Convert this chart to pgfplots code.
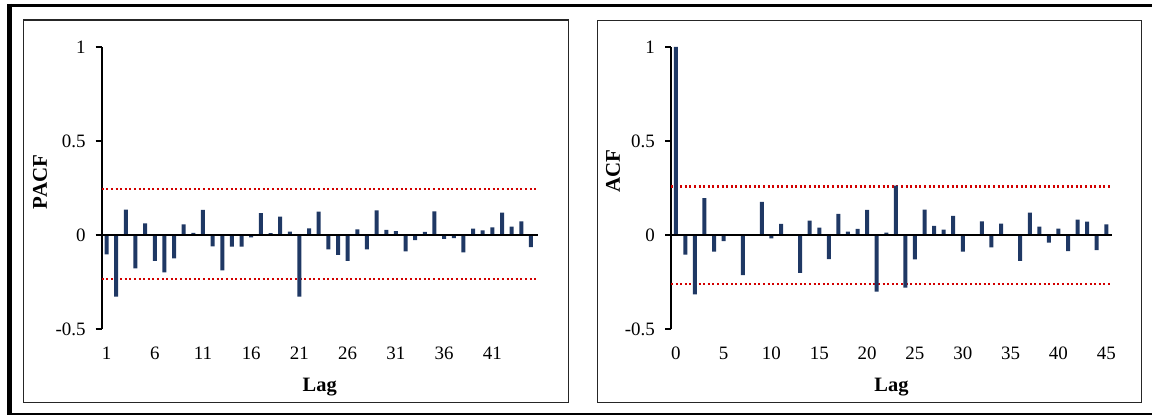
\documentclass[border=0pt]{standalone}
\usepackage{fontspec}
\setmainfont{Liberation Serif}
\usepackage{pgfplots}
\usepackage{pgfplotstable}
\pgfplotsset{compat=1.18}

\definecolor{barblue}{RGB}{31,56,100}
\definecolor{limred}{RGB}{210,0,0}

\pgfplotstableread{
lag pacf
1 -0.103
2 -0.328
3 0.135
4 -0.177
5 0.062
6 -0.137
7 -0.199
8 -0.124
9 0.057
10 0.011
11 0.133
12 -0.060
13 -0.188
14 -0.062
15 -0.062
16 -0.012
17 0.117
18 0.010
19 0.098
20 0.018
21 -0.328
22 0.035
23 0.124
24 -0.076
25 -0.106
26 -0.137
27 0.030
28 -0.076
29 0.131
30 0.027
31 0.020
32 -0.087
33 -0.027
34 0.016
35 0.126
36 -0.021
37 -0.016
38 -0.092
39 0.034
40 0.025
41 0.041
42 0.119
43 0.044
44 0.073
45 -0.064
}\pacftable

\pgfplotstableread{
lag acf
0 1.000
1 -0.105
2 -0.316
3 0.196
4 -0.089
5 -0.032
6 0.000
7 -0.214
8 0.000
9 0.176
10 -0.018
11 0.059
12 0.000
13 -0.201
14 0.077
15 0.039
16 -0.128
17 0.112
18 0.018
19 0.032
20 0.134
21 -0.301
22 0.012
23 0.262
24 -0.280
25 -0.130
26 0.135
27 0.048
28 0.029
29 0.102
30 -0.089
31 0.000
32 0.073
33 -0.066
34 0.061
35 0.000
36 -0.137
37 0.119
38 0.045
39 -0.041
40 0.034
41 -0.086
42 0.082
43 0.071
44 -0.080
45 0.057
}\acftable

\pgfplotsset{
  corrpanel/.style={
    scale only axis,
    height=282bp,
    ymin=-0.5, ymax=1,
    axis y line*=left,
    axis x line*=bottom,
    x axis line style={draw=none},
    xtick style={draw=none},
    y axis line style={line width=2bp},
    ytick style={line width=1.6bp, black},
    tick align=outside,
    major tick length=6bp,
    ytick={-0.5,0,0.5,1},
    yticklabels={-0.5,0,0.5,1},
    ticklabel style={font=\fontsize{19}{22}\selectfont},
    yticklabel style={anchor=east, inner sep=0pt, xshift=-10bp},
    xticklabel style={anchor=base, inner sep=0pt, yshift=-24bp},
    xlabel={Lag},
    xlabel style={font=\bfseries\fontsize{20.5}{24}\selectfont,
      at={(axis description cs:0.5,0)}, anchor=center, yshift=-58bp},
    ylabel style={font=\bfseries\fontsize{21}{24}\selectfont, anchor=center},
    clip=false,
  },
  limline/.style={limred, line width=2.2bp, dash pattern=on 2bp off 2.6bp},
  corrbar/.style={ybar, bar width=4bp, bar shift=0pt, fill=barblue, draw=none},
}

\begin{document}
\begin{tikzpicture}[x=1bp, y=1bp]
\useasboundingbox (0,0) rectangle (1152,415);
% outer frame
\draw[line width=3.5bp] (7,409.25) -- (1152,409.25);
\draw[line width=5bp] (9.5,411) -- (9.5,0);
\draw[line width=1.5bp] (12,1) -- (1152,1);
% panel frames
\draw[line width=1.5bp, black!85] (23.3,12.3) rectangle (568.3,395);
\draw[line width=1.5bp, black!85] (597.3,12.3) rectangle (1141.7,394.3);

% PACF panel
\begin{axis}[corrpanel,
  at={(101.7bp,86bp)}, anchor=south west,
  width=436bp,
  xmin=0.5, xmax=45.7,
  xtick={1,6,11,16,21,26,31,36,41},
  xticklabels={1,6,11,16,21,26,31,36,41},
  ylabel={PACF},
  ylabel style={at={(axis description cs:-0.1415,0.521)}},
]
\addplot[limline] coordinates {(0.5,0.243) (45.7,0.243)};
\addplot[limline] coordinates {(0.5,-0.233) (45.7,-0.233)};
\addplot[corrbar] table[x=lag, y=pacf] {\pacftable};
\addplot[black, line width=2bp] coordinates {(0.5,0) (45.7,0)};
\end{axis}

% ACF panel
\begin{axis}[corrpanel,
  at={(671bp,86bp)}, anchor=south west,
  width=441bp,
  xmin=-0.5, xmax=45.6,
  xtick={0,5,10,15,20,25,30,35,40,45},
  xticklabels={0,5,10,15,20,25,30,35,40,45},
  ylabel={ACF},
  ylabel style={at={(axis description cs:-0.1315,0.56)}},
]
\addplot[limline] coordinates {(-0.5,0.258) (45.6,0.258)};
\addplot[limline] coordinates {(-0.5,-0.26) (45.6,-0.26)};
\addplot[corrbar] table[x=lag, y=acf] {\acftable};
\addplot[black, line width=2bp] coordinates {(-0.5,0) (45.6,0)};
\end{axis}
\end{tikzpicture}
\end{document}
